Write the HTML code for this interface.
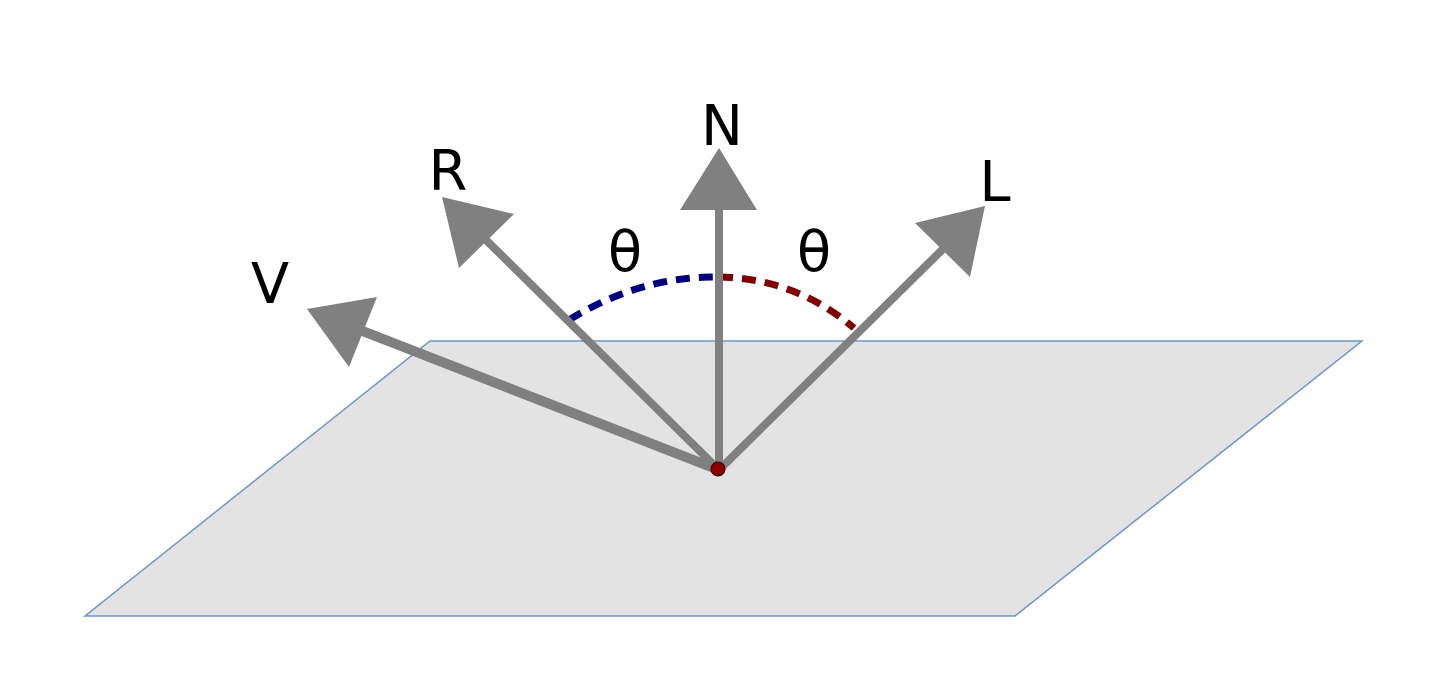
<!DOCTYPE html>
<html><head><meta charset="utf-8"><style>
html,body{margin:0;padding:0;background:#fff;}
svg{display:block;}
text{font-family:"DejaVu Sans","Liberation Sans",sans-serif;fill:#000;}
</style></head><body>
<svg width="1436" height="686" viewBox="0 0 1436 686">
<polygon points="430,341 1362,341 1015,616 85,616" fill="#e3e3e3" stroke="#6f96c8" stroke-width="1.5"/>
<path d="M569,320 Q640,276 719,277" fill="none" stroke="#00007f" stroke-width="7" stroke-dasharray="14,9"/>
<path d="M719,277 Q795,278 854,328" fill="none" stroke="#7f0000" stroke-width="7" stroke-dasharray="14,9"/>
<g stroke="#808080" stroke-width="8" stroke-linecap="butt">
<line x1="719" y1="470" x2="719" y2="205"/>
<line x1="719" y1="470" x2="482" y2="236"/>
<line x1="719" y1="470" x2="948" y2="244"/>
<line x1="719" y1="470" x2="360" y2="330" stroke-width="10"/>
</g>
<g fill="#808080">
<polygon points="719,148 680,210 757,210"/>
<polygon points="442,197 459,268 514,214"/>
<polygon points="985,206 915,223 970,277"/>
<polygon points="307,309 377,297 349,367"/>
</g>
<circle cx="718" cy="469" r="7" fill="#8b0000" stroke="#300" stroke-width="1"/>
<g font-size="56" text-anchor="middle">
<text x="722" y="145">N</text>
<text x="448" y="190">R</text>
<text x="995" y="201">L</text>
<text x="270" y="303">V</text>
<text x="625" y="271">θ</text>
<text x="814" y="271">θ</text>
</g>
</svg>
</body></html>
